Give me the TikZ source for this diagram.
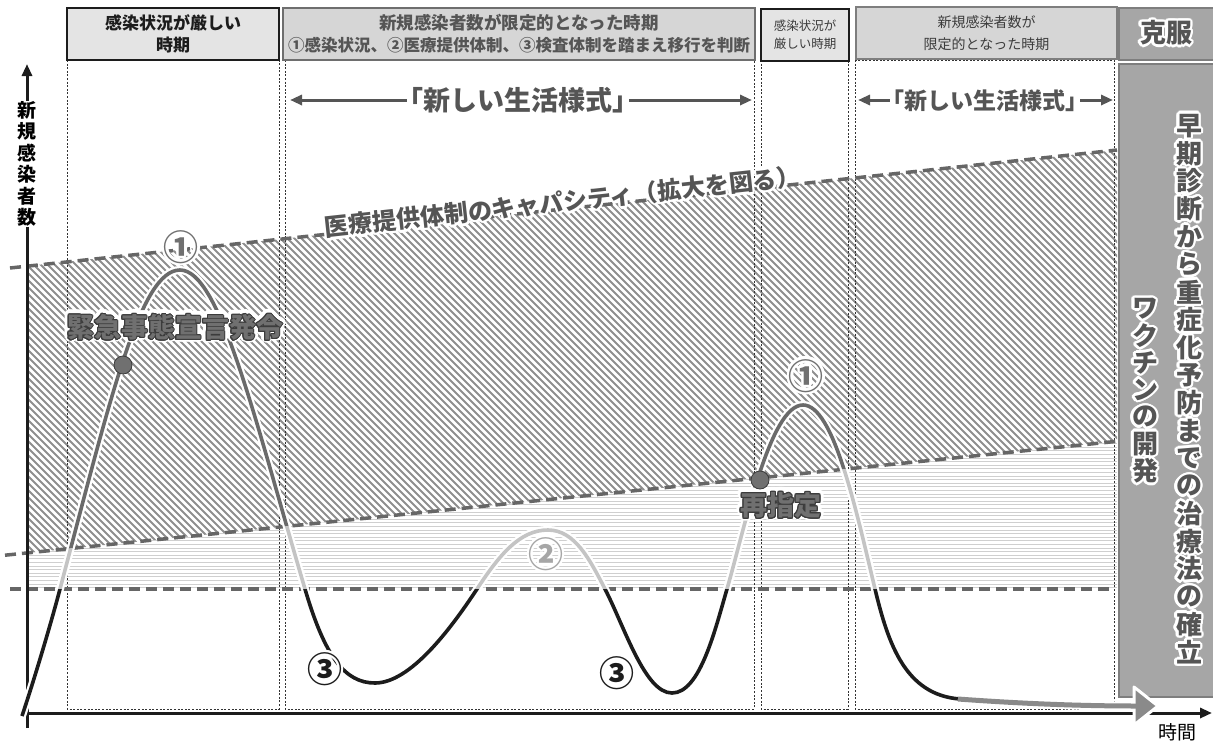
\documentclass[tikz,border=0pt]{standalone}
\usepackage{fontspec}
\setmainfont{Noto Sans CJK JP}
\usepackage[copies]{contour}
\usetikzlibrary{arrows.meta}
\definecolor{cdash}{HTML}{666666}
\definecolor{chatch}{HTML}{8E8E8E}
\definecolor{chline}{HTML}{CFCFCF}
\definecolor{ccdark}{HTML}{6A6A6A}
\definecolor{cclight}{HTML}{C4C4C4}
\definecolor{ccblack}{HTML}{1C1C1C}
\definecolor{ctext}{HTML}{555555}
\definecolor{cdk}{HTML}{3C3C3C}
\definecolor{cmid}{HTML}{707070}
\definecolor{hfill}{HTML}{E4E4E4}
\definecolor{hfilltwo}{HTML}{D6D6D6}
\definecolor{hbordertwo}{HTML}{6E6E6E}
\definecolor{pfill}{HTML}{A6A6A6}
\definecolor{pborder}{HTML}{7E7E7E}
\definecolor{carrowc}{HTML}{8A8A8A}
\newcommand\halotx[2][2pt]{{\contourlength{#1}\contour{white}{#2}}}
\newcommand\fsz[1]{\fontsize{#1}{#1}\selectfont}
\def\crvpath{(22,716) .. controls (34,680) and (50,627) .. (60,589)
 .. controls (110,400) and (140,270) .. (180,270)
 .. controls (220,270) and (255,420) .. (305,589)
 .. controls (325,657) and (345,683) .. (375,683)
 .. controls (410,683) and (450,630) .. (477,589)
 .. controls (500,554) and (520,530) .. (548,530)
 .. controls (575,530) and (590,560) .. (605,589)
 .. controls (625,628) and (645,693) .. (672,693)
 .. controls (700,693) and (715,630) .. (727,589)
 .. controls (745,527) and (770,405) .. (803,405)
 .. controls (833,405) and (855,505) .. (875,589)
 .. controls (888,643) and (905,695) .. (960,699)}
\tikzset{
  vdash/.style={draw=black!80, line width=0.6pt, dash pattern=on 2pt off 1.6pt},
  capline/.style={draw=cdash, line width=3.5pt, dash pattern=on 11pt off 6pt},
  hatchline/.style={draw=chatch, line width=2.1pt},
  hline/.style={draw=chline, line width=0.8pt},
  crvhalo/.style={draw=white, line width=8pt},
  crv/.style={line width=3.6pt},
  dotnode/.style={circle, fill=cmid, draw=cdk, line width=0.8pt, minimum size=18pt, inner sep=0pt},
  hdrbox/.style={rectangle, line width=2.6pt, minimum height=52pt, inner sep=0pt, align=center},
  axisline/.style={draw=ccblack, line width=3pt, -{Triangle[length=12pt,width=10pt]}},
  lsarrow/.style={draw=ctext, line width=3pt, {Triangle[length=12pt,width=10pt]}-{Triangle[length=12pt,width=10pt]}},
  circnum/.style={inner sep=0pt, font=\fsz{35}\bfseries},
}
\begin{document}
\begin{tikzpicture}[x=1pt,y=-1pt]
\useasboundingbox (0,0) rectangle (1213,742);
% diagonal hatching band
\begin{scope}
  \clip (27,266.0) -- (1117,150.0) -- (1117,441.3) -- (27,553.0) -- cycle;
  \foreach \a in {-420,-413,...,1120} \draw[hatchline] (\a,140) -- (\a+420,560);
\end{scope}
% horizontal line band
\begin{scope}
  \clip (27,553.0) -- (1117,441.3) -- (1117,589) -- (27,589) -- cycle;
  \foreach \yy in {440,443.6,...,590} \draw[hline] (27,\yy) -- (1117,\yy);
\end{scope}
% dashed period boxes
\draw[vdash] (67,60) rectangle (279,709);
\draw[vdash] (285,60) rectangle (754,709);
\draw[vdash] (761,60) rectangle (848,709);
\draw[vdash] (855,60) rectangle (1114,709);
% capacity lines
\draw[capline] (10,268) -- (1117,150);
\draw[capline] (5,555.2) -- (1117,441.3);
\draw[capline] (10,589) -- (1114,589);
% axes
\coordinate (o) at (27,728);
\coordinate (ytop) at (27,64);
\coordinate (xo) at (27,713);
\coordinate (xend) at (1212,713);
\draw[axisline] (o) -- (ytop);
\draw[axisline] (xo) -- (xend);
\node[fill=white, inner sep=1pt, align=center, font=\fontsize{19}{21.4}\selectfont\bfseries] (ylab) at (27,164) {新\\規\\感\\染\\者\\数};
\node[font=\fsz{19}] (tlab) at (1177,732) {時間};
% curve
\draw[crvhalo] \crvpath;
\begin{scope}
  \clip (0,0) -- (1213,0) -- (1213,431.5) -- (0,555.7) -- cycle;
  \draw[crv, draw=ccdark] \crvpath;
\end{scope}
\begin{scope}
  \clip (0,555.7) -- (1213,431.5) -- (1213,589) -- (0,589) -- cycle;
  \draw[crv, draw=cclight] \crvpath;
\end{scope}
\begin{scope}
  \clip (0,589) rectangle (1213,742);
  \draw[crv, draw=ccblack] \crvpath;
\end{scope}
% labels on the curve
\node[font=\fsz{27}\bfseries, text=cdk] (k1a) at (175,328) {\halotx[4pt]{緊急事態宣言発令}};
\node[font=\fsz{27}\bfseries, text=cmid] (k1) at (175,328) {{\contourlength{1pt}\contour{cdk}{緊急事態宣言発令}}};
\node[font=\fsz{27}\bfseries, text=cdk] (k2a) at (781,506) {\halotx[4pt]{再指定}};
\node[font=\fsz{27}\bfseries, text=cmid] (k2) at (781,506) {{\contourlength{1pt}\contour{cdk}{再指定}}};
\node[dotnode] (d1) at (123,365) {};
\node[dotnode] (d2) at (760,480) {};
% circled numbers
\node[circnum, text=cmid] (n1a) at (181,248) {\halotx[2.5pt]{①}};
\node[circnum, text=cmid] (n1b) at (806,377) {\halotx[2.5pt]{①}};
\node[circnum, text=black!35] (n2) at (546,555) {\halotx[2pt]{②}};
\node[circnum, text=ccblack] (n3a) at (325,670) {\halotx[2pt]{③}};
\node[circnum, text=ccblack] (n3b) at (617,674) {\halotx[2pt]{③}};
% capacity label
\node[rotate=6.2, font=\fsz{24}\bfseries, text=ctext] (cap) at (563,203) {\halotx[2.5pt]{医療提供体制のキャパシティ（拡大を図る）}};
% new lifestyle arrows
\coordinate (ls1a) at (290,100);
\coordinate (ls1b) at (752,100);
\draw[lsarrow] (ls1a) -- (ls1b);
\node[fill=white, inner sep=2pt, font=\fsz{27}\bfseries, text=ctext] (ls1) at (518,100) {\kern-0.45em「新しい生活様式」\kern-0.45em};
\coordinate (ls2a) at (858,100);
\coordinate (ls2b) at (1113,100);
\draw[lsarrow] (ls2a) -- (ls2b);
\node[fill=white, inner sep=2pt, font=\fsz{23}\bfseries, text=ctext] (ls2) at (985,101) {\kern-0.45em「新しい生活様式」\kern-0.45em};
% header boxes
\node[hdrbox, draw=ccblack, fill=hfill, minimum width=212pt, font=\fontsize{17}{22}\selectfont\bfseries, text=ccblack] (h1) at (173,34) {感染状況が厳しい\\時期};
\node[hdrbox, draw=hbordertwo, fill=hfilltwo, minimum width=472pt, text=ctext] (h2) at (519,34) {{\fsz{17.5}\bfseries 新規感染者数が限定的となった時期}\\[5pt]{\fsz{16.5}\bfseries ①感染状況、②医療提供体制、③検査体制を踏まえ移行を判断}};
\node[hdrbox, draw=ccblack, fill=hfill, minimum width=88pt, font=\fontsize{12.5}{18}\selectfont, text=cdk] (h3) at (805,35) {感染状況が\\厳しい時期};
\node[hdrbox, draw=pborder, fill=hfilltwo, minimum width=261pt, font=\fontsize{14}{22}\selectfont, text=cdk] (h4) at (986.5,33) {新規感染者数が\\限定的となった時期};
\node[hdrbox, draw=pborder, fill=pfill, minimum width=96pt] (h5) at (1167,34) {};
\node[font=\fsz{26}\bfseries, text=ctext] (kokufuku) at (1166,34) {\halotx[2.5pt]{克服}};
% right panel
\node[rectangle, draw=pborder, fill=pfill, line width=2.6pt, minimum width=96pt, minimum height=633pt, inner sep=0pt] (panel) at (1167,380.5) {};
\foreach \c [count=\i from 0] in {早,期,診,断,か,ら,重,症,化,予,防,ま,で,の,治,療,法,の,確,立}
  \node[font=\fsz{26}\bfseries, text=ctext] (pa\i) at (1189,127+27.7*\i) {\halotx[2.5pt]{\c}};
\foreach \c [count=\i from 0] in {ワ,ク,チ,ン,の,開,発}
  \node[font=\fsz{26}\bfseries, text=ctext] (pb\i) at (1145,310+27*\i) {\halotx[2.5pt]{\c}};
% final gray arrow (on top of the panel)
\coordinate (arrs) at (958,699);
\coordinate (arrb) at (1137,706);
\draw[draw=white, line width=9pt] (arrs) .. controls (1040,705) and (1100,706) .. (arrb);
\filldraw[draw=white, line width=3pt, line join=round, fill=carrowc] (1134,687) -- (1158,706) -- (1134,725) -- cycle;
\draw[draw=carrowc, line width=5pt] (arrs) .. controls (1040,705) and (1100,706) .. (arrb);
\end{tikzpicture}
\end{document}
